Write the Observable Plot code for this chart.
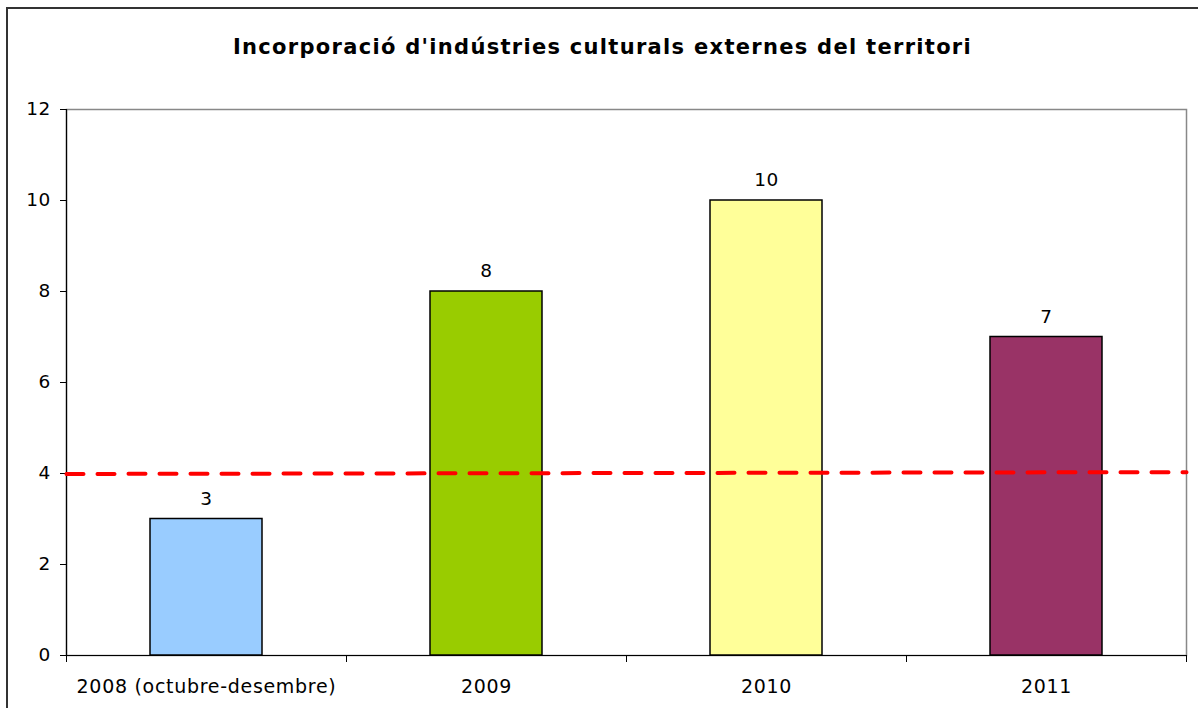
<!DOCTYPE html>
<html><head><meta charset="utf-8">
<script src="https://cdn.jsdelivr.net/npm/d3@7"></script>
<script src="https://cdn.jsdelivr.net/npm/@observablehq/plot@0.6"></script>
<style>
body{margin:0;background:#fff;font-family:"DejaVu Sans",Verdana,sans-serif;}
#wrap{position:relative;width:1198px;height:708px;overflow:hidden;background:#fff;}
#frame{position:absolute;left:6px;top:7px;width:1300px;height:800px;border:2px solid #333;box-sizing:border-box;}
#title{position:absolute;top:32px;left:0;width:1205px;text-align:center;font-weight:bold;font-size:21px;letter-spacing:1.3px;line-height:30px;color:#000;}
#chart{position:absolute;left:0;top:0;}
.xlab{letter-spacing:0.7px;}
.vlab{letter-spacing:0.5px;}
.ylab{letter-spacing:0.3px;}
</style></head><body>
<div id="wrap"><div id="frame"></div><div id="title">Incorporació d'indústries culturals externes del territori</div><div id="chart"></div></div>
<script>
const categories = ["2008 (octubre-desembre)", "2009", "2010", "2011"];
const values = [3, 8, 10, 7];
const colors = ["#99CCFF", "#99CC00", "#FFFF99", "#993366"];
const yTicks = [0, 2, 4, 6, 8, 10, 12];
const refLineStart = 3.99;
const refLineEnd = 4.03;

const data = categories.map((c, i) => ({c, i, v: values[i], color: colors[i]}));
const refLine = [{x: 0, y: refLineStart}, {x: categories.length, y: refLineEnd}];
const boundaries = d3.range(categories.length + 1);

const chart = Plot.plot({
  width: 1198, height: 708,
  marginLeft: 66, marginRight: 12, marginTop: 109, marginBottom: 53,
  style: {fontFamily: "'DejaVu Sans', Verdana, sans-serif", fontSize: "17px", background: "transparent", color: "#000"},
  x: {domain: [0, categories.length], label: null},
  y: {domain: [0, 12], label: null},
  color: {type: "identity"},
  marks: [
    Plot.frame({stroke: "#888", strokeWidth: 1.5}),
    Plot.rect(data, {x1: d => d.i + 0.3, x2: d => d.i + 0.7, y1: 0, y2: "v", fill: "color", stroke: "#000", strokeWidth: 1.5}),
    Plot.axisY({ticks: yTicks, tickSize: 6, tickFormat: () => "", label: null, stroke: "#000"}),
    Plot.text(yTicks, {x: 0, y: d => d, text: d => String(d), textAnchor: "end", dx: -16, fontSize: 18.5, fill: "#000", className: "ylab"}),
    Plot.axisX({ticks: boundaries, tickSize: 7, tickFormat: () => "", label: null, stroke: "#000"}),
    Plot.ruleX([0], {stroke: "#000", strokeWidth: 1.2}),
    Plot.ruleY([0], {stroke: "#000", strokeWidth: 1.2}),
    Plot.line(refLine, {x: "x", y: "y", stroke: "#FF0000", strokeWidth: 4, strokeDasharray: "17,14"}),
    Plot.text(data, {x: d => d.i + 0.5, y: "v", text: d => String(d.v), dy: -20, fontSize: 18.5, fill: "#000", className: "vlab"}),
    Plot.text(data, {x: d => d.i + 0.5, y: 0, text: "c", dy: 31, fontSize: 19, fill: "#000", className: "xlab"})
  ]
});
document.getElementById("chart").appendChild(chart);
</script>
</body></html>
